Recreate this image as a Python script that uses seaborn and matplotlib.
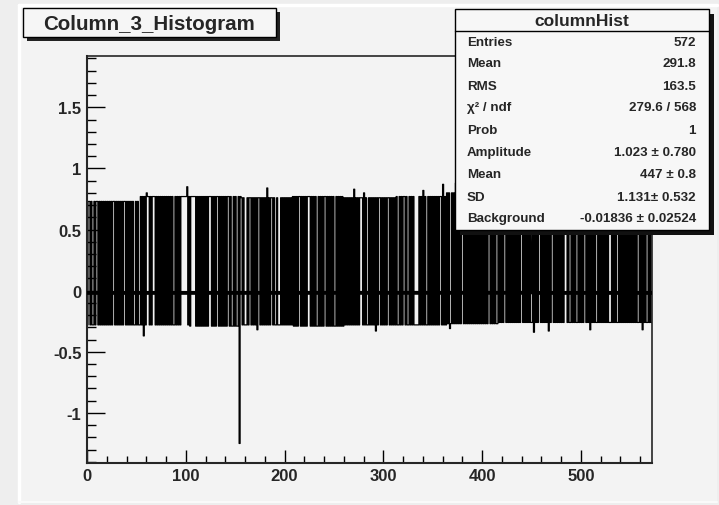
import numpy as np
import pandas as pd
import seaborn as sns
import matplotlib
matplotlib.use("Agg")
import matplotlib.pyplot as plt
from matplotlib.patches import Rectangle
from matplotlib.ticker import MultipleLocator, FuncFormatter

# ---------------- data ----------------
n_bins = 572
seg_len = 52
high_levels = [0.73, 0.77, 0.77, 0.76, 0.77, 0.76, 0.77, 0.80, 0.84, 0.85, 0.85]
low_levels = [-0.28, -0.28, -0.29, -0.28, -0.29, -0.28, -0.28, -0.27, -0.26, -0.26, -0.26]
# bins where the up/down alternation pauses (white slits), (bin, length)
holds = [(2, 1), (6, 1), (10, 1), (27, 1), (38, 1), (48, 1), (53, 1), (61, 2), (67, 2),
         (88, 1), (96, 6), (106, 4), (124, 2), (132, 1),
         (143, 1), (147, 1), (152, 1), (156, 1), (160, 2), (165, 1), (174, 1), (187, 1),
         (191, 1), (194, 2), (215, 1), (224, 2), (233, 1), (241, 1), (251, 1), (277, 2),
         (284, 1), (296, 1), (305, 1), (315, 1), (321, 1), (325, 1), (332, 3), (335, 1),
         (344, 1), (358, 1), (368, 1), (380, 1), (407, 1), (415, 1), (423, 1),
         (440, 1), (450, 1), (458, 1), (471, 1), (484, 2), (489, 1), (496, 1), (504, 1),
         (516, 1), (529, 2), (537, 1), (558, 1), (567, 1)]
# individual bins that stick out above / below the band
peaks_high = {59: 0.80, 101: 0.85, 182: 0.84, 269: 0.83, 280: 0.80, 340: 0.82,
              360: 0.87, 372: 0.88}
peaks_low = {56: -0.37, 96: -0.34, 173: -0.32, 291: -0.33, 367: -0.31, 451: -0.34,
             466: -0.33, 509: -0.32, 562: -0.32}
spike_bin, spike_value = 154, -1.25

# fit parameters from the stats box
fit_amp, fit_mean, fit_sd, fit_bg = 1.023, 447.0, 1.131, -0.01836

stats_rows = [("Entries", "572"), ("Mean", "291.8"), ("RMS", "163.5"),
              ("\u03c7\u00b2 / ndf", "279.6 / 568"), ("Prob", "1"),
              ("Amplitude", "1.023 \u00b1 0.780"), ("Mean", "447 \u00b1 0.8"),
              ("SD", "1.131\u00b1 0.532"), ("Background", "-0.01836 \u00b1 0.02524")]
title_text = "Column_3_Histogram"
stats_title = "columnHist"
x_major, x_minor = 100, 20
y_major, y_minor = 0.5, 0.1
xlim = (0, 572)
ylim = (-1.41, 1.92)

# ---------------- build bin contents ----------------
hold_set = {}
for b, L in holds:
    for k in range(L):
        hold_set[b + k] = True
state = 0  # 0 = low, 1 = high
values = []
for i in range(n_bins):
    if i > 0 and not hold_set.get(i, False):
        state = 1 - state
    seg = min(i // seg_len, len(high_levels) - 1)
    v = high_levels[seg] if state else low_levels[seg]
    values.append(v)
for table, positive in ((peaks_high, True), (peaks_low, False)):
    for b, v in table.items():
        for cand in (b, b + 1, b - 1):
            if 0 <= cand < n_bins and (values[cand] > 0) == positive:
                values[cand] = v
                break
values[spike_bin] = spike_value
df = pd.DataFrame({"x": np.arange(n_bins) + 0.5, "w": values})

# ---------------- style ----------------
sns.set_style("ticks")
plt.rcParams["font.family"] = ["Liberation Sans", "DejaVu Sans"]
plt.rcParams["axes.unicode_minus"] = False

W, H = 719, 506
fig = plt.figure(figsize=(W / 100, H / 100), dpi=100)
fig.patch.set_facecolor("#eeeeee")

# background canvas / pad
bg = fig.add_axes([0, 0, 1, 1], zorder=-5)
bg.set_xlim(0, W); bg.set_ylim(H, 0); bg.axis("off")
bg.add_patch(Rectangle((19, 6), 698, 497, facecolor="#f3f3f3", edgecolor="none"))
bg.plot([19, 19], [6, 503], color="white", lw=2.5)
bg.plot([19, 717], [6, 6], color="white", lw=2.5)
bg.plot([19, 717], [503, 503], color="#fafafa", lw=1.5)

left, right, top, bottom = 87 / W, 652 / W, 57 / H, 464 / H
ax = fig.add_axes([left, 1 - bottom, right - left, bottom - top])
ax.set_facecolor("#f3f3f3")

sns.histplot(data=df, x="x", weights="w", bins=n_bins, binrange=xlim, element="step",
             fill=False, color="black", linewidth=0.9, ax=ax)

xf = np.linspace(0, 572, 20000)
yf = fit_bg + fit_amp * np.exp(-0.5 * ((xf - fit_mean) / fit_sd) ** 2)
ax.plot(xf, yf, color="black", lw=2.8, zorder=3)

ax.set_xlim(*xlim)
ax.set_ylim(*ylim)
ax.set_xlabel("")
ax.set_ylabel("")
ax.xaxis.set_major_locator(MultipleLocator(x_major))
ax.xaxis.set_minor_locator(MultipleLocator(x_minor))
ax.yaxis.set_major_locator(MultipleLocator(y_major))
ax.yaxis.set_minor_locator(MultipleLocator(y_minor))
ax.yaxis.set_major_formatter(FuncFormatter(lambda v, p: "%g" % round(v, 3)))
ax.xaxis.set_major_formatter(FuncFormatter(lambda v, p: "%g" % v))
ax.tick_params(axis="y", which="major", direction="in", length=13, width=1.0,
               labelsize=12, pad=4, color="black")
ax.tick_params(axis="y", which="minor", direction="in", length=6.8, width=1.0, color="black")
ax.tick_params(axis="x", which="major", direction="in", length=9.2, width=1.0,
               labelsize=12, pad=3.5, color="black")
ax.tick_params(axis="x", which="minor", direction="in", length=5.2, width=1.0, color="black")
for lab in ax.get_xticklabels() + ax.get_yticklabels():
    lab.set_fontweight("bold")
for s in ["left", "bottom"]:
    ax.spines[s].set_linewidth(1.5)
for s in ["top", "right"]:
    ax.spines[s].set_visible(True)
    ax.spines[s].set_linewidth(1.2)

# ---------------- overlay boxes ----------------
ov = fig.add_axes([0, 0, 1, 1], zorder=10)
ov.set_xlim(0, W); ov.set_ylim(H, 0); ov.axis("off")

# title box with shadow
ov.add_patch(Rectangle((27, 13), 253, 29, facecolor="#222222", edgecolor="none"))
ov.add_patch(Rectangle((23, 9), 253, 29, facecolor="#f6f6f6", edgecolor="black", lw=1.0))
ov.text(149, 24, title_text, ha="center", va="center", fontsize=14.8, fontweight="bold")

# stats box with shadow
bx, by, bw, bh = 455, 10, 254, 221
ov.add_patch(Rectangle((bx + 5, by + 5), bw, bh, facecolor="#111111", edgecolor="none"))
ov.add_patch(Rectangle((bx, by), bw, bh, facecolor="#f7f7f7", edgecolor="black", lw=1.0))
ov.plot([bx, bx + bw], [32, 32], color="black", lw=1.0)
ov.text(bx + bw / 2, 21, stats_title, ha="center", va="center", fontsize=12.5,
        fontweight="bold")
row_y = [43, 64, 87, 108, 131, 153, 175, 198, 219]
for (lab, val), yy in zip(stats_rows, row_y):
    ov.text(467, yy, lab, ha="left", va="center", fontsize=9.6, fontweight="bold")
    ov.text(696, yy, val, ha="right", va="center", fontsize=9.6, fontweight="bold")

fig.savefig("out.png", dpi=100, facecolor=fig.get_facecolor())
